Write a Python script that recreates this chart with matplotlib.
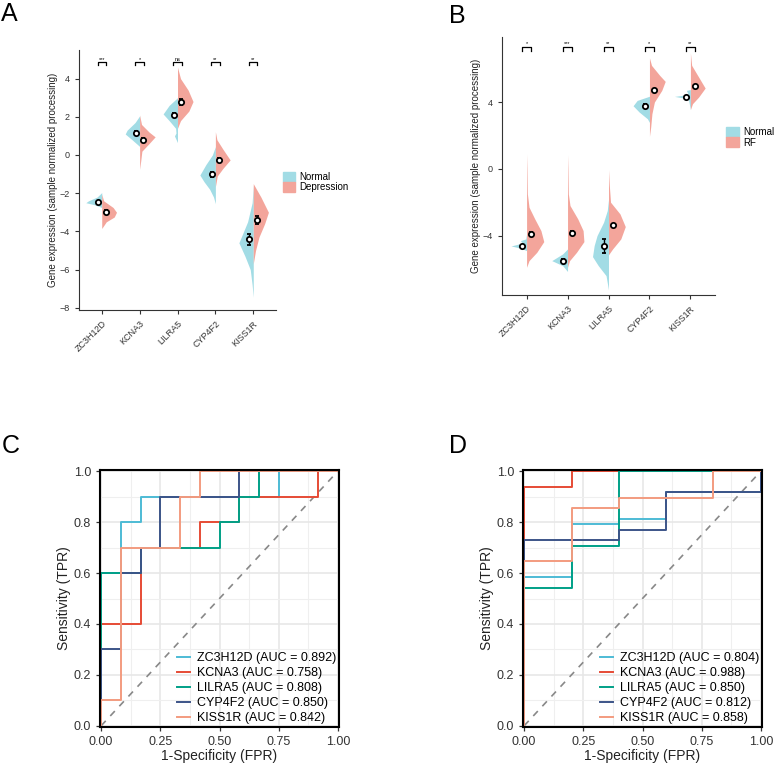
import numpy as np
import matplotlib
matplotlib.use('Agg')
import matplotlib.pyplot as plt
from matplotlib.patches import Patch

plt.rcParams['font.family'] = ['Liberation Sans', 'DejaVu Sans']

genes = ['ZC3H12D', 'KCNA3', 'LILRA5', 'CYP4F2', 'KISS1R']

# ---- panel A: half violins (y knots, half widths)
a_norm_y = [[-1.97, -2.2, -2.4, -2.5, -2.6, -2.75],
            [2.05, 1.7, 1.3, 1.1, 0.8, 0.45],
            [3.0, 2.6, 2.15, 1.8, 1.4, 1.15, 1.0, 0.65],
            [0.44, 0.0, -0.5, -1.05, -1.4, -1.8, -2.2, -2.55],
            [-1.6, -2.5, -3.5, -4.6, -5.3, -6.0, -6.8, -7.45]]
a_norm_w = [[0, 0.12, 0.35, 0.42, 0.2, 0],
            [0, 0.12, 0.33, 0.38, 0.2, 0],
            [0, 0.22, 0.38, 0.22, 0.05, 0.04, 0.08, 0],
            [0, 0.08, 0.25, 0.41, 0.3, 0.15, 0.05, 0],
            [0, 0.03, 0.15, 0.38, 0.22, 0.08, 0.03, 0]]
a_dep_y = [[-2.05, -2.4, -2.75, -3.0, -3.25, -3.5, -3.85],
           [2.1, 1.6, 1.2, 0.95, 0.6, 0.2, -0.3, -0.75],
           [4.6, 4.0, 3.4, 2.8, 2.3, 1.8, 1.4],
           [1.22, 0.8, 0.3, -0.26, -0.7, -1.1, -1.66],
           [-1.5, -2.2, -3.0, -3.6, -4.3, -5.0, -5.7]]
a_dep_w = [[0, 0.05, 0.3, 0.39, 0.33, 0.12, 0],
           [0, 0.05, 0.25, 0.41, 0.25, 0.06, 0.03, 0],
           [0, 0.08, 0.28, 0.41, 0.3, 0.08, 0],
           [0, 0.04, 0.2, 0.39, 0.2, 0.05, 0],
           [0, 0.2, 0.4, 0.3, 0.15, 0.06, 0]]
a_norm_mean = [-2.46, 1.17, 2.09, -1.01, -4.42]
a_norm_err = [0.05, 0.07, 0.1, 0.12, 0.3]
a_dep_mean = [-2.98, 0.79, 2.79, -0.26, -3.40]
a_dep_err = [0.08, 0.12, 0.15, 0.12, 0.2]
a_sig = ['***', '*', 'ns', '**', '**']

# ---- panel B
b_norm_y = [[-3.9, -4.2, -4.3, -4.45, -4.62, -4.75, -4.9],
            [-4.8, -5.1, -5.5, -5.8, -6.15],
            [-1.85, -2.5, -3.2, -4.0, -4.6, -5.26, -5.8, -6.4, -7.25],
            [4.35, 4.1, 3.78, 3.4, 3.0, 2.78],
            [4.75, 4.7, 4.45, 4.34, 4.2, 3.8, 3.55]]
b_norm_w = [[0, 0.02, 0.15, 0.1, 0.38, 0.15, 0],
            [0, 0.12, 0.385, 0.12, 0],
            [0, 0.03, 0.12, 0.28, 0.35, 0.39, 0.25, 0.06, 0],
            [0, 0.3, 0.4, 0.25, 0.05, 0],
            [0, 0.1, 0.05, 0.39, 0.05, 0.02, 0]]
b_rf_y = [[0.9, 0.0, -1.5, -2.3, -3.0, -3.7, -4.36, -5.0, -5.5, -5.9],
          [0.85, 0.0, -1.5, -2.2, -3.0, -3.7, -4.36, -5.0, -5.5, -5.9],
          [-0.05, -1.0, -2.0, -2.7, -3.46, -4.2, -4.8, -5.15],
          [6.65, 6.2, 5.6, 5.24, 4.7, 4.0, 3.3, 2.5, 1.95],
          [6.95, 6.2, 5.5, 4.84, 4.3, 3.9, 3.55]]
b_rf_w = [[0, 0.01, 0.02, 0.06, 0.2, 0.35, 0.42, 0.25, 0.06, 0],
          [0, 0.01, 0.02, 0.06, 0.25, 0.38, 0.4, 0.22, 0.05, 0],
          [0, 0.02, 0.05, 0.28, 0.41, 0.3, 0.1, 0],
          [0, 0.05, 0.25, 0.385, 0.3, 0.12, 0.06, 0.03, 0],
          [0, 0.03, 0.2, 0.36, 0.2, 0.05, 0]]
b_norm_mean = [-4.62, -5.5, -4.6, 3.78, 4.28]
b_norm_err = [0.05, 0.08, 0.42, 0.12, 0.06]
b_rf_mean = [-3.9, -3.82, -3.38, 4.7, 4.94]
b_rf_err = [0.12, 0.1, 0.08, 0.08, 0.06]
b_sig = ['*', '***', '**', '*', '**']

# ---- ROC curves (step points: fpr, tpr)
c_fpr = [[0, 0, 0.083, 0.167, 0.75, 1],
         [0, 0, 0.167, 0.417, 0.583, 0.917, 1],
         [0, 0, 0.167, 0.5, 0.583, 0.667, 1],
         [0, 0, 0.083, 0.167, 0.25, 0.583, 1],
         [0, 0, 0.083, 0.333, 0.417, 1]]
c_tpr = [[0, 0.6, 0.8, 0.9, 1.0, 1.0],
         [0, 0.4, 0.7, 0.8, 0.9, 1.0, 1.0],
         [0, 0.6, 0.7, 0.8, 0.9, 1.0, 1.0],
         [0, 0.3, 0.6, 0.7, 0.9, 1.0, 1.0],
         [0, 0.1, 0.7, 0.9, 1.0, 1.0]]
c_auc = ['0.892', '0.758', '0.808', '0.850', '0.842']

d_fpr = [[0, 0, 0.2, 0.4, 0.6, 1],
         [0, 0, 0.2, 1],
         [0, 0, 0.2, 0.4, 1],
         [0, 0, 0.4, 0.6, 1],
         [0, 0, 0.2, 0.4, 0.8, 1]]
d_tpr = [[0, 0.583, 0.792, 0.812, 0.917, 1.0],
         [0, 0.938, 1.0, 1.0],
         [0, 0.542, 0.708, 1.0, 1.0],
         [0, 0.729, 0.771, 0.917, 1.0],
         [0, 0.646, 0.854, 0.896, 1.0, 1.0]]
d_auc = ['0.804', '0.988', '0.850', '0.812', '0.858']

BLUE = '#A2DCE5'
RED = '#F3A59B'
roc_cols = ['#4DBBD5', '#E64B35', '#00A087', '#3C5488', '#F39B7F']

W, H = 777, 772
fig = plt.figure(figsize=(W / 100, H / 100), dpi=100)


def box(l, t, r, b):
    return [l / W, 1 - b / H, (r - l) / W, (b - t) / H]


def violin_panel(ax, ny, nw, ry, rw, nmean, nerr, rmean, rerr, sig, sig_y, ylim, yticks, labels):
    x = np.arange(1, 6)
    for i in range(5):
        ys = np.array(ny[i]); ws = np.array(nw[i])
        ax.fill_betweenx(ys, x[i] - ws, x[i], color=BLUE, lw=0)
        ys = np.array(ry[i]); ws = np.array(rw[i])
        ax.fill_betweenx(ys, x[i], x[i] + ws, color=RED, lw=0)
    for xs, m, e in [(x - 0.1, nmean, nerr), (x + 0.1, rmean, rerr)]:
        ax.errorbar(xs, m, yerr=e, fmt='o', mfc='white', mec='black', ecolor='black',
                    ms=3.8, mew=1.3, capsize=1.5, elinewidth=1, zorder=5)
    y0, y1 = sig_y
    for i in range(5):
        ax.plot([x[i] - 0.11, x[i] - 0.11, x[i] + 0.11, x[i] + 0.11], [y0, y1, y1, y0],
                color='black', lw=0.9)
        ax.text(x[i], y1 + (y1 - y0) * 0.3, sig[i], ha='center', va='bottom', fontsize=4)
    ax.set_xlim(0.4, 5.6)
    ax.set_ylim(*ylim)
    ax.set_yticks(yticks)
    ax.set_xticks(x)
    ax.set_xticklabels(genes, rotation=45, ha='right', rotation_mode='anchor')
    for s in ['top', 'right']:
        ax.spines[s].set_visible(False)
    for s in ['left', 'bottom']:
        ax.spines[s].set_color('#333333')
        ax.spines[s].set_linewidth(0.8)
    ax.tick_params(labelsize=6.5, colors='#333333', length=3, width=0.8)
    ax.set_ylabel('Gene expression (sample normalized processing)', fontsize=7,
                  color='#222222', labelpad=1)
    ax.legend(handles=[Patch(color=BLUE, label=labels[0]), Patch(color=RED, label=labels[1])],
              frameon=False, fontsize=7, handlelength=1.3, handleheight=1.2,
              labelspacing=0, handletextpad=0.4, borderpad=0, loc='upper left',
              bbox_to_anchor=(1.01, 0.55))


axA = fig.add_axes(box(79, 50, 276, 310))
violin_panel(axA, a_norm_y, a_norm_w, a_dep_y, a_dep_w, a_norm_mean, a_norm_err,
             a_dep_mean, a_dep_err, a_sig, (4.7, 4.85), (-8.12, 5.5),
             [4, 2, 0, -2, -4, -6, -8], ['Normal', 'Depression'])

axB = fig.add_axes(box(502, 37, 715, 295))
violin_panel(axB, b_norm_y, b_norm_w, b_rf_y, b_rf_w, b_norm_mean, b_norm_err,
             b_rf_mean, b_rf_err, b_sig, (7.04, 7.3), (-7.56, 7.9),
             [4, 0, -4], ['Normal', 'RF'])
axB.get_legend().set_bbox_to_anchor((1.03, 0.67))


def roc_panel(ax, fprs, tprs, aucs):
    ax.plot([0, 1], [0, 1], color='#888888', lw=1.2, dashes=(4, 4))
    for i in range(5):
        ax.step(fprs[i], tprs[i], where='post', color=roc_cols[i], lw=1.4,
                label=f'{genes[i]} (AUC = {aucs[i]})')
    ax.set_xlim(-0.005, 1.005)
    ax.set_ylim(-0.005, 1.005)
    ax.set_xticks([0, 0.25, 0.5, 0.75, 1.0])
    ax.set_xticklabels(['0.00', '0.25', '0.50', '0.75', '1.00'])
    ax.set_yticks([0, 0.2, 0.4, 0.6, 0.8, 1.0])
    ax.set_yticklabels(['0.0', '0.2', '0.4', '0.6', '0.8', '1.0'])
    ax.set_xticks(np.arange(0.125, 1, 0.25), minor=True)
    ax.set_yticks(np.arange(0.1, 1, 0.2), minor=True)
    ax.grid(which='major', color='#E6E6E6', lw=1.1)
    ax.grid(which='minor', color='#EFEFEF', lw=0.8)
    ax.set_axisbelow(True)
    ax.tick_params(which='minor', length=0)
    ax.tick_params(which='major', labelsize=9, colors='#333333', length=3, width=0.9)
    for s in ax.spines.values():
        s.set_color('black')
        s.set_linewidth(1.5)
    ax.set_xlabel('1-Specificity (FPR)', fontsize=10, color='#222222', labelpad=1)
    ax.set_ylabel('Sensitivity (TPR)', fontsize=10, color='#222222', labelpad=2)
    ax.legend(loc='lower right', frameon=False, fontsize=9, handlelength=1.0,
              labelspacing=0.25, handletextpad=0.6, borderpad=0.1,
              borderaxespad=0.1)


axC = fig.add_axes(box(100, 470, 339, 727))
roc_panel(axC, c_fpr, c_tpr, c_auc)
axD = fig.add_axes(box(523, 470, 762, 727))
roc_panel(axD, d_fpr, d_tpr, d_auc)

for lab, x, y in [('A', 1, 2), ('B', 449, 4), ('C', 2, 434), ('D', 449, 434)]:
    fig.text(x / W, 1 - y / H, lab, fontsize=18, va='top', ha='left')

fig.savefig('out.png', dpi=100)
